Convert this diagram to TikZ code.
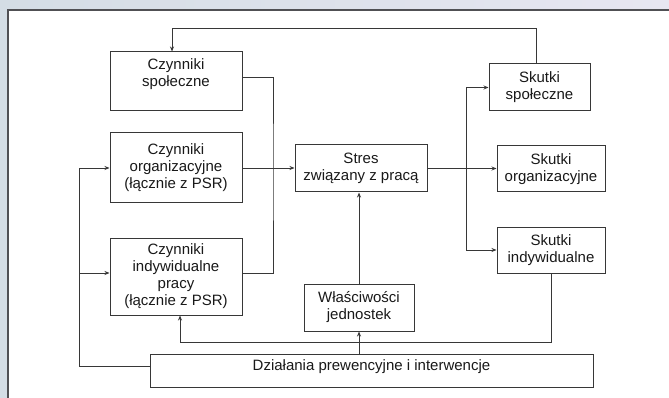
\documentclass[tikz,border=0pt]{standalone}
\usepackage{fontspec}
\setmainfont{Liberation Sans}
\usetikzlibrary{arrows.meta}
\definecolor{bgL}{RGB}{212,221,229}
\definecolor{bgR}{RGB}{231,230,241}
\definecolor{frame}{RGB}{80,80,84}
\definecolor{ln}{RGB}{55,55,55}
\definecolor{txt}{RGB}{25,25,25}
\tikzset{
  box/.style={draw=ln, line width=1pt, fill=white, align=center, text=txt,
    font=\fontsize{15}{17}\selectfont, inner sep=0pt},
  line/.style={draw=ln, line width=0.9pt},
  arr/.style={line, -{Stealth[length=5pt,width=4pt]}}
}
\begin{document}
\begin{tikzpicture}[x=1pt,y=-1pt]
\useasboundingbox (0,0) rectangle (669,398);
\shade[left color=bgL, right color=bgR] (0,0) rectangle (669,398);
\fill[white] (8,10) rectangle (669,398);
\draw[frame, line width=2pt] (8,398) -- (8,10) -- (669,10);

\node[box, minimum width=132pt, minimum height=59pt] (cs) at (176,81.5) {Czynniki\\społeczne\\~};
\node[box, minimum width=132pt, minimum height=70pt] (co) at (176,168) {Czynniki\\organizacyjne\\(łącznie z PSR)};
\node[box, minimum width=132pt, minimum height=77pt] (ci) at (176,276.5) {Czynniki\\indywidualne\\pracy\\(łącznie z PSR)};
\node[box, minimum width=132pt, minimum height=47pt] (st) at (361,168.5) {Stres\\związany z pracą};
\node[box, minimum width=110pt, minimum height=47pt] (wl) at (359,307.5) {Właściwości\\jednostek};
\node[box, minimum width=101pt, minimum height=47pt] (ss) at (539.5,87.5) {Skutki\\społeczne};
\node[box, minimum width=108pt, minimum height=46pt] (so) at (551,169) {Skutki\\organizacyjne};
\node[box, minimum width=108pt, minimum height=46pt] (si) at (551,250) {Skutki\\indywidualne};
\node[box, minimum width=443pt, minimum height=33pt, text depth=10pt] (dz) at (371.5,370.5) {Działania prewencyjne i interwencje};

% feedback from social effects to social factors
\draw[arr] ([xshift=-3.5pt]ss.north) -- ++(0,-35) -| ([xshift=-4pt]cs.north);

% collector of factors
\coordinate (j) at (273,169);
\draw[line] ([yshift=4.5pt]cs.east) -| (j) |- ([yshift=3.5pt]ci.east);
\draw[arr] (co.east) -- (co.east -| st.west);

% stress to effects
\coordinate (k) at (466,168.5);
\draw[arr] (st.east) -- (st.east -| so.west);
\draw[arr] (k) |- (ss.west);
\draw[arr] (k) |- (si.west);

% individual properties to stress
\draw[arr] (wl.north) -- (wl.north |- st.south);
\draw[arr] (dz.north -| wl.south) -- (wl.south);

% individual effects back to individual factors
\coordinate (h) at (0,342);
\draw[arr] (si.south) -- (si.south |- h) -| ([xshift=4pt]ci.south);

% prevention to factors
\coordinate (L) at (79,0);
\coordinate (cw) at ([yshift=3.5pt]ci.west);
\draw[arr] ([yshift=4.5pt]dz.west) -| (L |- co.west) -- (co.west);
\draw[arr] (cw -| L) -- (cw);
\end{tikzpicture}
\end{document}
